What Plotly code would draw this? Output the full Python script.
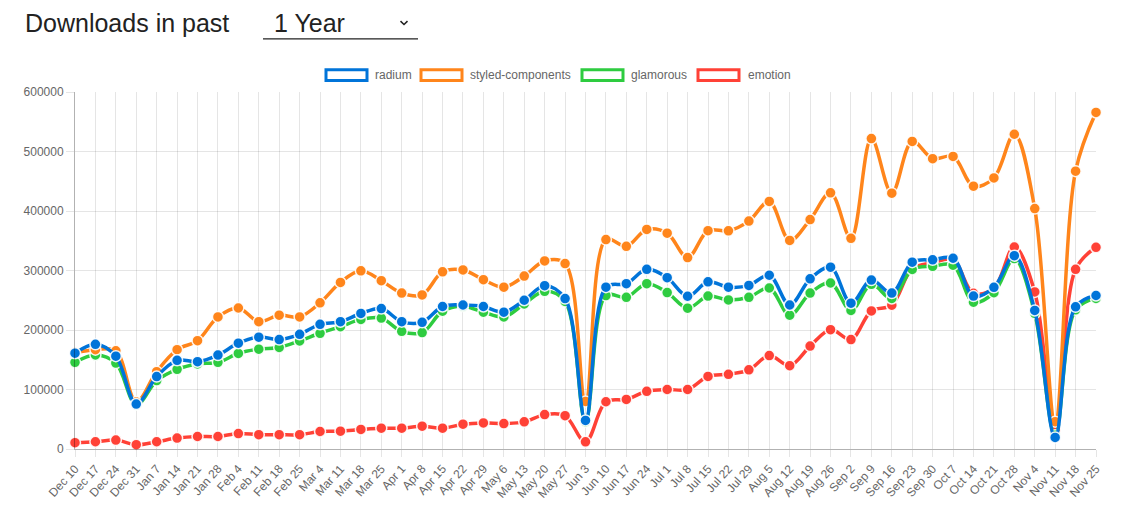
import plotly.graph_objects as go

dates = ["Dec 10", "Dec 17", "Dec 24", "Dec 31", "Jan 7", "Jan 14", "Jan 21", "Jan 28",
         "Feb 4", "Feb 11", "Feb 18", "Feb 25", "Mar 4", "Mar 11", "Mar 18", "Mar 25",
         "Apr 1", "Apr 8", "Apr 15", "Apr 22", "Apr 29", "May 6", "May 13", "May 20",
         "May 27", "Jun 3", "Jun 10", "Jun 17", "Jun 24", "Jul 1", "Jul 8", "Jul 15",
         "Jul 22", "Jul 29", "Aug 5", "Aug 12", "Aug 19", "Aug 26", "Sep 2", "Sep 9",
         "Sep 16", "Sep 23", "Sep 30", "Oct 7", "Oct 14", "Oct 21", "Oct 28", "Nov 4",
         "Nov 11", "Nov 18", "Nov 25"]

radium = [161000, 176000, 156000, 75600, 121700, 149000, 146700, 157800, 177800, 188000,
          184000, 192800, 209500, 213900, 227800, 236000, 214000, 213000, 239500, 242000,
          239500, 230000, 250000, 274500, 252800, 48000, 272000, 277800, 302000, 288000,
          256700, 281000, 272000, 275000, 292000, 242000, 286000, 305600, 245000, 284000,
          262000, 314000, 318000, 320600, 257000, 271700, 325000, 232800, 19400, 239000,
          258000]

styled_components = [162000, 167000, 165000, 79000, 130000, 167000, 182000, 222000, 237000,
                     214000, 225000, 222000, 245600, 280000, 299500, 282800, 262000, 259000,
                     297800, 301000, 284500, 272000, 290600, 316000, 311700, 80000, 352000,
                     340600, 369000, 362800, 321700, 367000, 366700, 383000, 416000, 350600,
                     385600, 430600, 354000, 521700, 430000, 517000, 488000, 491700, 441700,
                     455600, 529000, 404000, 46000, 467000, 565600]

glamorous = [145600, 158000, 144500, 74400, 115000, 134000, 143000, 145600, 160600, 167800,
             170600, 181700, 194500, 205600, 217800, 220000, 197800, 195600, 231700, 240000,
             230000, 222000, 243900, 265000, 248000, 46000, 257800, 255000, 277800, 263000,
             236700, 257000, 250600, 255000, 270600, 225000, 262000, 279000, 232800, 276700,
             253000, 301700, 307000, 309000, 246700, 262800, 320000, 228000, 23000, 234000,
             253000]

emotion = [10600, 12200, 15000, 7200, 12200, 18300, 21000, 21000, 26000, 24000, 24000,
           24000, 29400, 30000, 32800, 35000, 35000, 38300, 35000, 41700, 43900, 42800,
           45600, 57800, 56000, 12000, 79400, 83300, 97000, 100000, 100000, 122000, 125600,
           133000, 157000, 140000, 173000, 200600, 184000, 232000, 241700, 303000, 313000,
           318000, 261700, 270000, 339500, 264000, 31000, 302000, 339000]

series_names = ["radium", "styled-components", "glamorous", "emotion"]
series_values = [radium, styled_components, glamorous, emotion]
series_colors = ["#0074D9", "#FF851B", "#2ECC40", "#FF4136"]

y_ticks = [0, 100000, 200000, 300000, 400000, 500000, 600000]

W, H = 1130, 513
L, R, T, B = 75, 34, 92, 61
PW, PH = W - L - R, H - T - B


def px(x):
    return (x - L) / PW


def py(y):
    return (H - B - y) / PH


fig = go.Figure()

# Chart.js draws the first dataset on top, so add in reverse order
for name, vals, col in reversed(list(zip(series_names, series_values, series_colors))):
    fig.add_trace(go.Scatter(
        x=dates, y=vals, name=name, mode="lines+markers",
        line=dict(color=col, width=3.5, shape="spline", smoothing=1.0),
        marker=dict(color=col, size=11, line=dict(color="rgba(255,255,255,0.9)", width=1.5)),
        cliponaxis=False, showlegend=False,
    ))

grid = "rgba(0,0,0,0.1)"
axis_font = dict(family="Liberation Sans, Arial, sans-serif", size=12, color="#666666")

fig.update_layout(
    width=W, height=H,
    margin=dict(l=L, r=R, t=T, b=B),
    paper_bgcolor="white", plot_bgcolor="white",
    showlegend=False,
    xaxis=dict(
        type="category", range=[0, len(dates) - 1],
        showgrid=True, gridcolor=grid, gridwidth=1,
        ticks="outside", ticklen=7, tickcolor=grid,
        showline=True, linecolor="rgba(0,0,0,0.3)", linewidth=1,
        tickangle=-48, tickfont=axis_font, zeroline=False,
    ),
    yaxis=dict(
        range=[0, 600000], tickvals=y_ticks, ticktext=[str(v) for v in y_ticks],
        showgrid=True, gridcolor=grid, gridwidth=1,
        ticks="outside", ticklen=8, tickcolor=grid,
        showline=True, linecolor="rgba(0,0,0,0.3)", linewidth=1,
        tickfont=axis_font, zeroline=False,
    ),
)

title_font = dict(family="Liberation Sans, Arial, sans-serif", size=25, color="#222222")
annotations = [
    dict(text="Downloads in past", x=px(23), y=py(22), xref="paper", yref="paper",
         xanchor="left", yanchor="middle", showarrow=False, font=title_font),
    dict(text="1 Year", x=px(272), y=py(22), xref="paper", yref="paper",
         xanchor="left", yanchor="middle", showarrow=False, font=title_font),
]
shapes = [
    dict(type="line", xref="paper", yref="paper", x0=px(263), x1=px(418), y0=py(38.5), y1=py(38.5),
         line=dict(color="#222222", width=1.2)),
    dict(type="path", xref="paper", yref="paper",
         path=f"M {px(400.5)} {py(20.5)} L {px(404)} {py(24)} L {px(407.5)} {py(20.5)}",
         line=dict(color="#222222", width=1.5)),
]

# custom Chart.js-like legend
legend_boxes = [(326, 367), (421, 462), (582, 623), (698, 739)]
legend_text_x = [373, 468, 629, 746]
for (x0, x1), tx, name, col in zip(legend_boxes, legend_text_x, series_names, series_colors):
    shapes.append(dict(type="rect", xref="paper", yref="paper",
                       x0=px(x0), x1=px(x1), y0=py(69.5), y1=py(80.5),
                       line=dict(color=col, width=3), fillcolor="rgba(255,255,255,1)"))
    annotations.append(dict(text=name, x=px(tx), y=py(75), xref="paper", yref="paper",
                            xanchor="left", yanchor="middle", showarrow=False,
                            font=axis_font))

fig.update_layout(annotations=annotations, shapes=shapes)

fig.write_html("out.html")
